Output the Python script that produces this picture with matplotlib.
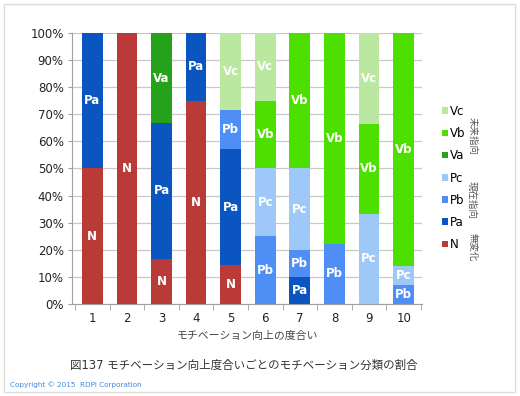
import matplotlib
matplotlib.use("Agg")
import matplotlib.pyplot as plt
from matplotlib.patches import Patch, Rectangle

plt.rcParams['font.family'] = ['DejaVu Sans', 'Noto Sans CJK JP']

# ---- data (percent of each motivation level) ----
levels = ["1", "2", "3", "4", "5", "6", "7", "8", "9", "10"]
N  = [50, 100, 16.7, 75, 14.3, 0, 0, 0, 0, 0]
Pa = [50, 0, 50, 25, 42.9, 0, 10, 0, 0, 0]
Pb = [0, 0, 0, 0, 14.3, 25, 10, 22.2, 0, 7.1]
Pc = [0, 0, 0, 0, 0, 25, 30, 0, 33.3, 7.1]
Va = [0, 0, 33.3, 0, 0, 0, 0, 0, 0, 0]
Vb = [0, 0, 0, 0, 0, 25, 50, 77.8, 33.3, 85.8]
Vc = [0, 0, 0, 0, 28.5, 25, 0, 0, 33.4, 0]

series = [("N", N, "#B93A36"), ("Pa", Pa, "#0A55C0"), ("Pb", Pb, "#4F8EF5"),
          ("Pc", Pc, "#9EC8F8"), ("Va", Va, "#26A11A"), ("Vb", Vb, "#4CDF00"),
          ("Vc", Vc, "#BAE8A0")]

fig = plt.figure(figsize=(5.2, 3.96), dpi=100)
ax = fig.add_axes([0.1385, 0.2323, 0.673, 0.6844])

x = list(range(len(levels)))
bottom = [0] * len(levels)
handles = {}
for name, vals, col in series:
    bars = ax.bar(x, vals, 0.6, bottom=bottom, color=col, zorder=3)
    ax.bar_label(bars, labels=[name if v > 0 else "" for v in vals],
                 label_type="center", color="white", fontsize=8.5,
                 fontweight="bold")
    handles[name] = Patch(facecolor=col)
    bottom = [b + v for b, v in zip(bottom, vals)]

ax.set_ylim(0, 100)
ax.set_xlim(-0.587, 9.53)
ax.set_yticks(range(0, 101, 10))
ax.set_yticklabels([f"{v}%" for v in range(0, 101, 10)], fontsize=8.5, color="#222222")
ax.set_xticks(x)
ax.set_xticklabels(levels, fontsize=8.5, color="#222222")
ax.set_xticks([i - 0.5 for i in range(11)], minor=True)
ax.tick_params(axis="x", which="major", length=0, pad=6)
ax.tick_params(axis="x", which="minor", length=4, color="#A0A0A0")
ax.tick_params(axis="y", length=3, color="#A0A0A0", pad=3)
ax.grid(axis="y", color="#C8C8C8", lw=0.9, zorder=0)
for s in ["top", "right"]:
    ax.spines[s].set_visible(False)
for s in ["left", "bottom"]:
    ax.spines[s].set_color("#A0A0A0")
ax.set_xlabel("モチベーション向上の度合い", fontsize=7.8, color="#444444", labelpad=4)

order = ["Vc", "Vb", "Va", "Pc", "Pb", "Pa", "N"]
fig.legend([handles[k] for k in order], order, loc="center left",
           bbox_to_anchor=(0.85, 0.5505), bbox_transform=fig.transFigure,
           frameon=False, fontsize=8.5, handlelength=0.5, handleheight=0.5,
           handletextpad=0.2, labelspacing=0.78, borderpad=0, borderaxespad=0)

fig.text(472 / 520, 1 - 136 / 396, "未来指向", rotation=270, ha="center", va="center",
         fontsize=6.8, color="#555555")
fig.text(472 / 520, 1 - 200 / 396, "現在指向", rotation=270, ha="center", va="center",
         fontsize=6.8, color="#555555")
fig.text(472 / 520, 1 - 247 / 396, "無変化", rotation=270, ha="center", va="center",
         fontsize=6.8, color="#555555")

fig.text(244 / 520, 1 - 365 / 396, "図137 モチベーション向上度合いごとのモチベーション分類の割合",
         ha="center", va="center", fontsize=8.3, color="#333333")
fig.text(10 / 520, 1 - 385 / 396, "Copyright © 2015  RDPi Corporation",
         ha="left", va="center", fontsize=5.2, color="#3C8CE0")

fig.add_artist(Rectangle((4 / 520, 4 / 396), 511 / 520, 388 / 396,
                         transform=fig.transFigure, fill=False,
                         edgecolor="#DDDDDD", lw=1))

fig.savefig("out.png", dpi=100)
